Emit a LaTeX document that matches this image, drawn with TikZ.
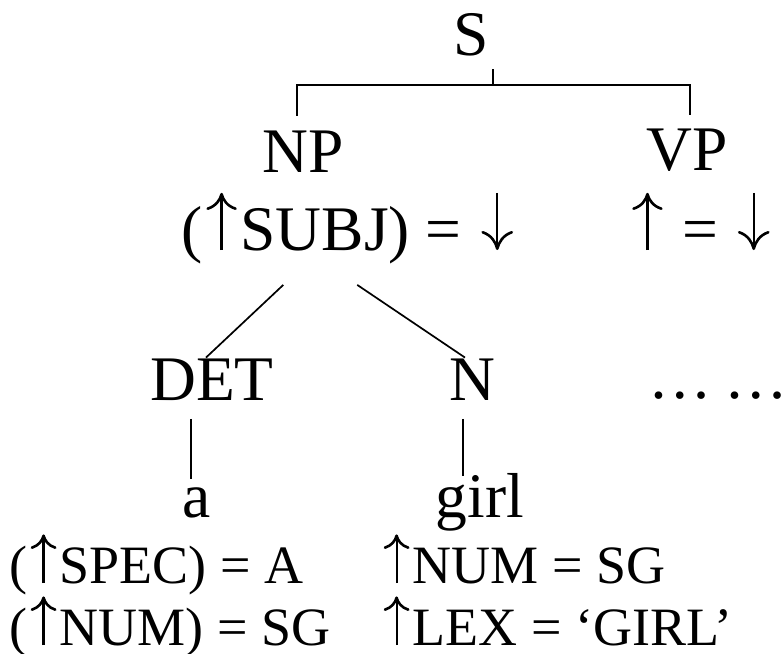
\documentclass[tikz,border=0pt]{standalone}
\usepackage{fontspec}
\setmainfont{Liberation Serif}
\usepackage{tikz}
\usetikzlibrary{arrows.meta}
\newcommand{\uarr}{\hspace{.06em}\tikz[baseline=0pt]\draw[line width=1.1pt, -{Computer Modern Rightarrow[length=.27em, width=.48em, line width=1.3pt]}] (0pt, 0pt) -- (0pt, .9em);\hspace{.06em}}
\newcommand{\darr}{\hspace{.06em}\tikz[baseline=0pt]\draw[line width=1.1pt, -{Computer Modern Rightarrow[length=.3em, width=.5em, line width=1.3pt]}] (0pt, .9em) -- (0pt, 0pt);\hspace{.06em}}

\begin{document}
\begin{tikzpicture}[x=0.5pt, y=-0.5pt, line width=0.85pt,
  cat/.style={inner sep=0pt, anchor=base, font=\fontsize{31.75}{36}\selectfont},
  ann/.style={inner sep=0pt, anchor=base west, font=\fontsize{31.75}{36}\selectfont},
  eqn/.style={inner sep=0pt, anchor=base west, font=\fontsize{27}{31}\selectfont}]
\useasboundingbox (0, 0) rectangle (784, 654);
\node[cat] (s) at (471, 55) {S};
\node[cat] (np) at (303, 172) {NP};
\node[cat] (vp) at (687, 170) {VP};
\node[ann] (subj) at (181, 250) {(\uarr SUBJ) = \darr};
\node[ann] (head) at (628, 250) {\uarr\ = \darr};
\node[cat] (det) at (212, 400) {DET};
\node[cat] (n) at (472, 400) {N};
\node[ann] (more) at (648, 398) {…\hspace{.2em}…\kern-.3em};
\node[cat] (a) at (197, 517) {a};
\node[cat] (girl) at (480, 517) {girl};
\node[eqn] (spec) at (9, 583) {(\uarr SPEC) = A};
\node[eqn] (numa) at (9, 645) {(\uarr NUM) = SG};
\node[eqn] (numn) at (380, 583) {\uarr NUM = SG};
\node[eqn] (lex) at (380, 645) {\uarr LEX = ‘GIRL’};
\coordinate (fork) at (493, 85);
\draw (fork) -- ++(0, -16);
\draw ([xshift=-3pt, yshift=7pt]np.north) |- (fork) -| ([xshift=1.5pt, yshift=6.5pt]vp.north);
\draw ([xshift=-32pt, yshift=-10.5pt]subj.south) -- ([xshift=-3pt]det.north);
\draw ([xshift=5pt, yshift=-10.5pt]subj.south) -- ([xshift=-3.5pt]n.north);
\draw ([xshift=-10.5pt, yshift=-9pt]det.south) -- ([xshift=-3pt, yshift=3.5pt]a.north);
\draw ([xshift=-4.5pt, yshift=-9pt]n.south) -- ([xshift=-8.5pt, yshift=-2pt]girl.north);
\end{tikzpicture}
\end{document}
